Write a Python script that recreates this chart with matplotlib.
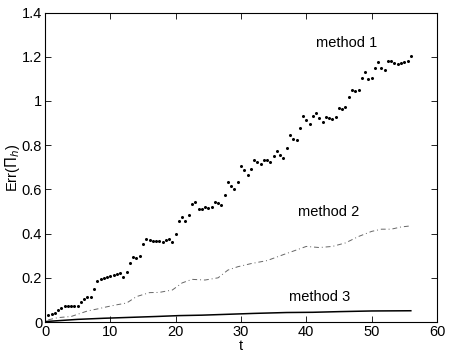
import numpy as np
import matplotlib
matplotlib.use("Agg")
import matplotlib.pyplot as plt
from matplotlib.ticker import FuncFormatter

plt.rcParams['font.family'] = ['Liberation Sans', 'DejaVu Sans']

# method 1: sampled every 0.5 in t
t1 = np.arange(1, 113) * 0.5
err1 = [0.033, 0.038, 0.041, 0.054, 0.065, 0.071, 0.071, 0.073, 0.071, 0.071,
        0.092, 0.104, 0.111, 0.111, 0.150, 0.184, 0.193, 0.199, 0.205, 0.210,
        0.211, 0.216, 0.223, 0.205, 0.226, 0.266, 0.296, 0.290, 0.300, 0.352,
        0.377, 0.370, 0.367, 0.365, 0.365, 0.361, 0.373, 0.375, 0.361, 0.397,
        0.459, 0.476, 0.458, 0.483, 0.536, 0.542, 0.510, 0.513, 0.521, 0.515,
        0.521, 0.544, 0.539, 0.529, 0.575, 0.633, 0.617, 0.600, 0.634, 0.704,
        0.690, 0.664, 0.693, 0.731, 0.726, 0.713, 0.735, 0.735, 0.722, 0.749,
        0.773, 0.754, 0.740, 0.788, 0.847, 0.829, 0.823, 0.877, 0.933, 0.914,
        0.897, 0.930, 0.947, 0.923, 0.903, 0.927, 0.921, 0.917, 0.929, 0.969,
        0.964, 0.975, 1.020, 1.051, 1.047, 1.051, 1.102, 1.130, 1.100, 1.104,
        1.149, 1.175, 1.151, 1.142, 1.180, 1.181, 1.172, 1.166, 1.174, 1.177,
        1.181, 1.204]

# method 2
t2 = [0.5, 2, 4, 5, 6.5, 8, 9.5, 11, 12.5, 14, 16, 17.5, 19.5, 21, 22.5, 24.5,
      26.5, 28, 29.5, 31.5, 34, 36.5, 38.5, 40, 42, 44, 46, 48, 50, 51.5, 53,
      54.5, 56]
err2 = [0.01, 0.02, 0.025, 0.035, 0.05, 0.059, 0.069, 0.078, 0.086, 0.115,
        0.133, 0.134, 0.145, 0.177, 0.193, 0.19, 0.2, 0.235, 0.25, 0.264, 0.278,
        0.305, 0.326, 0.342, 0.337, 0.342, 0.358, 0.387, 0.41, 0.42, 0.42,
        0.43, 0.435]

# method 3
t3 = [0, 2, 5, 9, 13, 17, 20.5, 24, 28, 32, 37, 41, 45, 50, 56]
err3 = [0.002, 0.006, 0.012, 0.017, 0.021, 0.025, 0.029, 0.031, 0.035, 0.039,
        0.043, 0.044, 0.047, 0.05, 0.051]

labels = ["method 1", "method 2", "method 3"]
label_pos = [(46.2, 1.264), (43.4, 0.496), (42.1, 0.111)]

fig = plt.figure(figsize=(4.5, 3.59), dpi=100)
ax = fig.add_axes([0.1, 0.103, 0.871, 0.862])

ax.plot(t1, err1, linestyle='none', marker='o', markersize=1.2,
        color='black')
ax.plot(t2, err2, linestyle=(0, (5, 3, 1, 3)), color='#666666',
        linewidth=0.7)
ax.plot(t3, err3, linestyle='-', color='black', linewidth=1.1)

for lab, (x, y) in zip(labels, label_pos):
    ax.text(x, y, lab, ha='center', va='center', fontsize=10.5)

ax.set_xlim(0, 60)
ax.set_ylim(0, 1.4)
ax.set_xticks(range(0, 61, 10))
ax.set_yticks(np.arange(0, 1.41, 0.2))
ax.yaxis.set_major_formatter(FuncFormatter(lambda v, p: f"{v:g}"))
ax.tick_params(direction='in', top=True, right=True, labelsize=10.5,
               length=4, width=0.6, pad=2)
for s in ax.spines.values():
    s.set_linewidth(0.8)

ax.set_xlabel("t", fontsize=10.5, labelpad=0.5)
ax.set_ylabel(r"Err($\Pi_h$)", fontsize=10.5, labelpad=0)

fig.savefig("out.png", dpi=100)
